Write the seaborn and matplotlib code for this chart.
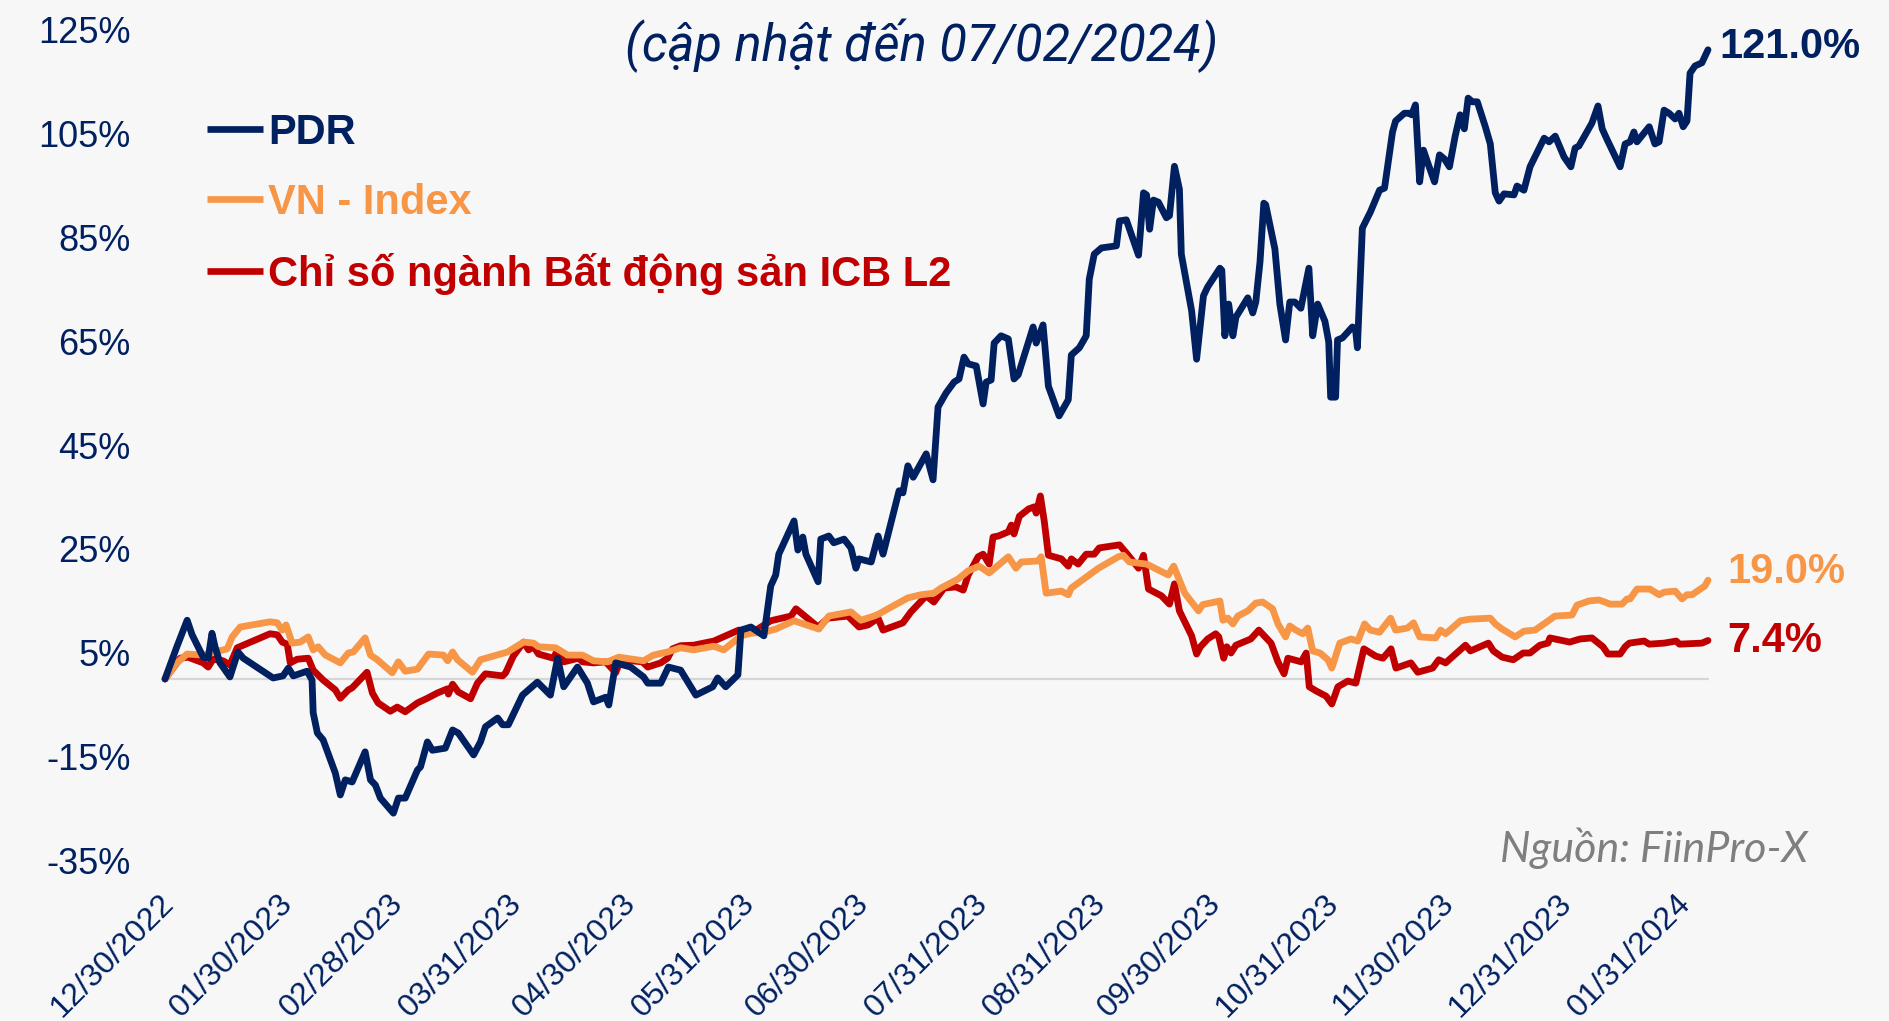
import matplotlib
matplotlib.use("Agg")

import matplotlib.pyplot as plt
from matplotlib.lines import Line2D
from matplotlib.transforms import ScaledTranslation
import seaborn as sns
import pandas as pd

# data: days since 30/12/2022 and % change
START = "2022-12-30"

pdr_days = [0, 3.1, 5.8, 7.1, 10.0, 11.3, 12.3, 13.1, 14.4, 17.0, 19.1, 20.5, 28.3, 30.9, 32.3, 33.6,
            37.2, 38.5, 38.8, 39.9, 41.4, 44.6, 45.9, 47.2, 49.0, 52.4, 53.8, 55.1, 56.4, 59.8, 61.1,
            62.9, 66.1, 66.9, 68.7, 70.0, 73.4, 75.3, 76.8, 80.8, 82.6, 83.9, 87.1, 88.4, 89.9, 93.6,
            97.5, 100.9, 102.8, 104.4, 108.0, 110.6, 112.2, 115.4, 116.2, 118.0, 121.9, 125.3, 126.4,
            129.8, 131.8, 135.0, 139.0, 143.4, 144.7, 146.8, 150.0, 150.8, 153.4, 156.8, 158.6, 159.9,
            160.7, 164.7, 165.7, 167.0, 167.8, 171.0, 171.7, 173.8, 175.1, 177.8, 179.6, 180.9, 181.7,
            184.9, 186.7, 188.0, 192.2, 193.2, 194.5, 195.9, 199.3, 201.1, 202.4, 204.5, 206.6, 207.9,
            209.2, 210.3, 212.4, 214.2, 215.0, 216.3, 217.1, 218.9, 220.8, 222.3, 223.4, 227.3, 228.1,
            229.9, 231.3, 234.1, 236.5, 237.3, 239.4, 241.2, 242.0, 243.3, 245.2, 249.1, 249.9, 251.7,
            254.9, 256.2, 257.0, 257.8, 258.8, 260.1, 262.2, 263.0, 264.3, 265.6, 266.1, 268.8, 270.1,
            271.9, 273.0, 276.2, 276.7, 277.5, 278.5, 279.6, 280.4, 283.5, 284.8, 285.6, 286.7, 287.7,
            288.2, 290.6, 291.9, 293.4, 294.5, 295.8, 297.4, 299.5, 300.5, 301.8, 303.7, 304.7, 305.2,
            306.5, 307.0, 308.3, 310.9, 311.7, 312.2, 313.5, 314.3, 315.6, 318.0, 319.3, 321.4, 322.2,
            324.5, 325.8, 326.4, 327.4, 328.5, 329.5, 330.6, 332.4, 333.7, 335.0, 336.3, 337.8, 339.1,
            340.2, 341.2, 342.3, 343.6, 345.7, 347.0, 348.3, 349.3, 350.6, 353.2, 354.0, 355.8, 357.4,
            361.1, 362.4, 364.0, 366.3, 368.1, 369.2, 370.2, 373.6, 375.2, 376.3, 377.6, 381.0, 382.3,
            383.6, 384.6, 385.4, 388.6, 390.1, 391.2, 392.5, 393.8, 395.4, 396.4, 397.5, 398.5, 399.3,
            400.6, 402.4, 404.0]
pdr_vals = [0.0, 6.2, 11.3, 8.5, 4.2, 4.0, 8.8, 6.2, 3.1, 0.4, 5.2, 4.0, 0.2, 0.6, 2.1, 0.6,
            1.5, -0.2, -6.5, -10.4, -11.7, -18.1, -22.3, -19.4, -19.8, -14.0, -19.4, -20.4, -22.9, -25.8, -22.9,
            -22.9, -17.5, -16.9, -12.1, -13.7, -13.3, -9.8, -10.4, -14.6, -12.1, -9.2, -7.5, -8.8, -8.8, -3.1,
            -0.6, -3.1, 4.0, -1.5, 2.3, -0.8, -4.4, -3.5, -5.0, 3.1, 2.3, 0.4, -0.8,
            -0.8, 2.3, 1.7, -3.1, -1.5, 0.2, -1.5, 0.8, 9.4, 10.0, 8.3, 17.9, 20.0,
            24.0, 30.4, 24.8, 27.3, 24.0, 18.7, 26.9, 27.5, 26.2, 26.9, 25.2, 21.3, 23.1,
            22.5, 27.5, 24.0, 36.2, 35.8, 41.0, 38.8, 43.3, 38.3, 52.3, 55.0, 57.1, 57.7,
            61.9, 60.6, 60.2, 52.9, 57.1, 57.5, 64.6, 66.0, 65.4, 57.7, 58.5, 67.7, 64.6,
            68.1, 56.3, 50.6, 53.7, 62.3, 63.7, 66.0, 76.9, 81.7, 82.9, 83.3, 88.1, 88.3,
            81.5, 93.5, 93.1, 86.5, 92.1, 91.7, 88.7, 89.1, 98.6, 94.2, 81.7, 70.8, 61.5,
            73.7, 75.4, 79.0, 78.6, 66.0, 72.1, 66.0, 69.6, 73.3, 70.4, 72.5, 80.2, 91.5,
            91.2, 82.7, 72.1, 65.2, 72.5, 72.5, 71.3, 79.0, 66.0, 72.1, 68.8, 64.8, 54.2,
            54.2, 65.2, 65.6, 67.7, 67.3, 63.7, 86.7, 87.9, 89.8, 94.0, 94.4, 105.2, 107.3,
            108.8, 108.8, 108.5, 110.4, 95.6, 101.7, 99.3, 95.6, 100.8, 100.0, 98.5, 104.4, 108.5,
            105.8, 111.7, 111.0, 111.0, 106.2, 102.9, 93.5, 91.9, 93.3, 93.1, 94.8, 94.0, 98.5,
            104.0, 103.3, 104.4, 100.4, 98.5, 102.1, 102.5, 106.9, 110.2, 105.8, 103.7, 98.5, 102.9,
            103.3, 105.2, 103.3, 106.2, 102.9, 103.3, 109.4, 108.8, 107.7, 108.8, 106.2, 107.3, 116.5,
            117.9, 118.5, 121.0]

vni_days = [0, 3.1, 5.8, 10.0, 16.3, 17.6, 19.7, 27.5, 29.4, 30.7, 31.7, 33.3, 35.4, 37.5, 38.8,
            40.1, 42.0, 45.9, 48.0, 49.3, 52.4, 53.8, 55.6, 59.5, 61.1, 62.9, 66.1, 69.0, 72.9, 74.0,
            75.3, 76.6, 80.5, 82.6, 89.7, 93.9, 96.5, 97.8, 102.3, 105.4, 109.3, 112.2, 115.9, 118.8,
            125.3, 127.9, 131.6, 135.0, 138.4, 143.7, 146.3, 150.8, 153.4, 156.8, 159.9, 164.7, 171.2,
            173.8, 179.6, 182.2, 185.6, 186.9, 189.3, 194.5, 197.9, 201.3, 203.2, 207.6, 210.3, 213.1,
            215.8, 220.8, 222.8, 224.2, 228.6, 229.4, 230.7, 234.7, 236.5, 237.3, 244.4, 249.6, 250.9,
            252.5, 257.0, 262.7, 264.1, 267.0, 270.6, 271.7, 276.2, 277.0, 278.3, 279.6, 280.9, 283.5,
            285.6, 287.4, 290.0, 291.4, 293.4, 294.5, 296.1, 297.9, 299.2, 300.5, 302.4, 304.5, 305.5,
            307.6, 310.5, 312.3, 314.1, 315.6, 318.0, 320.9, 322.2, 325.3, 326.9, 328.5, 332.7, 334.0,
            335.3, 339.2, 341.6, 347.0, 348.3, 350.1, 353.5, 355.8, 358.7, 362.4, 363.9, 368.4, 369.7,
            372.8, 375.4, 377.0, 378.3, 381.5, 382.8, 383.6, 385.4, 388.8, 391.2, 392.5, 395.4, 397.2,
            398.5, 399.8, 403.2, 404.0]
vni_vals = [0.0, 3.1, 4.8, 4.6, 5.8, 8.1, 10.0, 11.0, 10.8, 9.4, 10.4, 6.9, 7.1, 8.1, 5.6,
            6.2, 4.6, 3.1, 5.0, 5.2, 7.9, 4.6, 3.7, 1.2, 3.3, 1.5, 1.9, 4.8, 4.6, 3.5,
            5.2, 3.7, 1.3, 3.7, 5.2, 7.1, 6.9, 6.2, 6.0, 4.6, 4.6, 3.5, 3.3, 4.2,
            3.5, 4.6, 5.2, 6.0, 5.6, 6.3, 5.6, 8.3, 8.8, 9.0, 9.6, 11.2, 9.6,
            12.1, 12.9, 11.3, 12.1, 12.5, 13.5, 15.6, 16.2, 16.5, 17.5, 19.2, 20.8, 21.7,
            20.4, 23.5, 21.3, 22.5, 22.7, 23.5, 16.5, 16.9, 16.2, 17.5, 21.3, 23.5, 23.8,
            22.5, 22.1, 20.0, 21.7, 16.5, 13.1, 14.3, 15.0, 11.3, 11.7, 10.6, 12.1, 13.1,
            14.6, 14.8, 13.5, 10.6, 8.1, 10.2, 9.4, 8.7, 9.8, 5.4, 5.0, 3.7, 2.1,
            6.9, 7.7, 7.3, 10.6, 9.4, 9.0, 11.7, 9.4, 9.8, 10.8, 8.1, 7.9, 9.4,
            8.7, 11.2, 11.5, 11.7, 10.6, 9.6, 8.1, 9.2, 9.4, 11.3, 12.1, 12.3, 14.2,
            15.0, 15.2, 14.8, 14.4, 14.4, 15.4, 15.4, 17.3, 17.3, 16.2, 16.7, 16.9, 15.4,
            16.2, 16.2, 17.9, 19.0]

icb_days = [0, 4.0, 6.0, 10.0, 11.3, 12.6, 15.2, 17.0, 18.9, 27.5, 29.4, 30.7, 32.0, 32.8, 34.6,
            37.5, 38.8, 41.4, 44.6, 45.9, 48.0, 49.0, 52.9, 54.3, 55.8, 59.0, 60.8, 62.9, 66.1, 68.7,
            71.3, 73.9, 74.2, 75.3, 76.8, 80.0, 81.8, 83.9, 88.4, 89.2, 91.2, 93.9, 95.2, 96.5, 97.8,
            101.7, 102.8, 104.4, 108.3, 109.3, 112.2, 115.4, 118.0, 119.3, 125.0, 126.4, 129.8, 131.6,
            132.9, 135.0, 138.4, 143.7, 146.8, 150.2, 153.9, 158.6, 163.9, 165.2, 171.0, 173.6, 178.8,
            181.7, 184.1, 186.7, 188.0, 193.2, 195.3, 199.3, 201.3, 204.0, 207.1, 209.0, 210.3, 212.9,
            214.2, 215.8, 216.8, 218.2, 220.8, 221.6, 222.3, 223.7, 226.1, 227.6, 228.1, 229.2, 230.2,
            231.3, 234.7, 236.5, 237.3, 239.1, 241.2, 243.3, 244.6, 249.9, 252.2, 254.9, 256.2, 257.5,
            260.9, 263.0, 264.3, 265.6, 268.8, 270.1, 271.1, 273.0, 275.1, 275.9, 277.2, 278.0, 279.1,
            280.4, 284.3, 286.4, 289.6, 291.4, 293.0, 294.0, 297.5, 298.8, 299.6, 301.4, 304.0, 305.5,
            307.1, 309.7, 311.8, 313.9, 317.0, 318.9, 321.0, 322.3, 326.2, 328.0, 331.9, 333.5, 335.3,
            340.5, 341.8, 346.5, 347.8, 350.1, 353.0, 355.6, 357.4, 360.0, 362.1, 362.6, 367.8, 370.5,
            373.6, 376.5, 377.8, 381.0, 382.3, 383.4, 387.3, 388.6, 392.5, 395.7, 396.5, 402.4, 404.0]
icb_vals = [0.0, 4.0, 4.2, 3.1, 2.3, 3.8, 3.5, 2.7, 6.0, 8.7, 8.5, 7.1, 6.7, 3.1, 3.8,
            4.0, 1.7, -0.2, -2.1, -3.7, -2.1, -1.7, 1.3, -2.7, -4.6, -6.2, -5.4, -6.3, -4.6, -3.7,
            -2.7, -1.9, -2.9, -1.0, -2.5, -3.8, -0.8, 1.0, 0.6, 1.2, 4.4, 7.1, 5.6, 6.2, 4.8,
            4.0, 5.6, 3.3, 4.0, 3.3, 3.1, 3.3, 1.2, 3.7, 3.3, 2.3, 3.1, 4.0,
            5.8, 6.4, 6.5, 7.3, 8.3, 9.4, 9.0, 11.2, 12.1, 13.5, 10.0, 11.7, 12.1,
            10.0, 10.4, 11.7, 9.4, 10.8, 12.9, 16.0, 14.8, 17.5, 17.7, 17.1, 20.0, 23.5,
            24.0, 22.1, 27.3, 27.5, 28.3, 29.6, 27.9, 31.3, 32.7, 33.1, 31.9, 35.2, 30.4,
            23.8, 23.1, 21.7, 23.1, 22.1, 24.0, 24.0, 25.2, 25.8, 23.8, 21.3, 23.8, 17.3,
            16.0, 14.4, 18.3, 13.1, 8.3, 4.8, 6.2, 7.7, 8.7, 8.1, 4.0, 6.2, 5.0,
            6.5, 7.7, 9.4, 6.9, 3.3, 1.0, 4.0, 3.3, 5.0, -1.5, -2.3, -3.3, -4.8,
            -1.5, -0.4, -0.8, 5.8, 4.4, 4.0, 5.8, 2.1, 3.1, 1.3, 2.1, 3.7, 3.1,
            6.5, 5.4, 6.9, 5.4, 4.2, 3.7, 5.0, 5.0, 6.5, 6.9, 7.9, 7.1, 7.7,
            7.9, 6.2, 4.8, 4.8, 6.2, 6.9, 7.3, 6.7, 6.9, 7.3, 6.7, 6.9, 7.4]

series_names = ["PDR", "VN - Index", "Chỉ số ngành Bất động sản ICB L2"]
series_colors = ["#002060", "#F79646", "#C00000"]
end_labels = ["121.0%", "19.0%", "7.4%"]

tick_dates = ["2022-12-30", "2023-01-30", "2023-02-28", "2023-03-31", "2023-04-30", "2023-05-31",
              "2023-06-30", "2023-07-31", "2023-08-31", "2023-09-30", "2023-10-31", "2023-11-30",
              "2023-12-31", "2024-01-31"]
y_ticks = [-35, -15, 5, 25, 45, 65, 85, 105, 125]

NAVY = "#002060"
W, H = 1890, 1021

sns.set_theme(style="white")
plt.rcParams["font.family"] = ["Liberation Sans", "DejaVu Sans"]

start = pd.Timestamp(START)
frames = []
for name, days, vals in [(series_names[0], pdr_days, pdr_vals),
                         (series_names[1], vni_days, vni_vals),
                         (series_names[2], icb_days, icb_vals)]:
    frames.append(pd.DataFrame({
        "date": start + pd.to_timedelta(days, unit="D"),
        "value": vals,
        "series": name,
    }))
data = pd.concat(frames, ignore_index=True)

fig = plt.figure(figsize=(W / 100, H / 100), dpi=100)
fig.patch.set_facecolor("#f7f7f8")
ax = fig.add_axes([165 / W, 1 - 861 / H, (1708 - 165) / W, (861 - 29) / H])
ax.set_facecolor("none")

ax.axhline(0, color="#d6d6d6", lw=1.6, zorder=1)

sns.lineplot(data=data, x="date", y="value", hue="series", hue_order=series_names[::-1],
             palette=dict(zip(series_names, series_colors)), linewidth=4.9,
             estimator=None, sort=False, legend=False, ax=ax, zorder=3)
for line in ax.lines:
    line.set_solid_joinstyle("round")
    line.set_solid_capstyle("round")
    line.set_clip_on(False)

ax.set_xlim(start, start + pd.Timedelta(days=404))
ax.set_ylim(-35, 125)
ax.set_xlabel("")
ax.set_ylabel("")
sns.despine(ax=ax, left=True, bottom=True)

ax.set_yticks(y_ticks)
ax.set_yticklabels([f"{v}%" for v in y_ticks], fontsize=26, color=NAVY)
ax.tick_params(axis="y", length=0, pad=25)

xt = pd.to_datetime(tick_dates)
ax.set_xticks(xt)
ax.set_xticklabels(xt.strftime("%m/%d/%Y"), fontsize=23, color=NAVY,
                   rotation=45, ha="right", va="top", rotation_mode="anchor")
ax.tick_params(axis="x", length=0, pad=20)
shift = ScaledTranslation(-6 / 100, 0, fig.dpi_scale_trans)
for lbl in ax.get_xticklabels():
    lbl.set_transform(lbl.get_transform() + shift)

# end-of-line value labels
end_offsets = [(8, 2), (14, 6), (14, 0)]
for name, color, label, off in zip(series_names, series_colors, end_labels, end_offsets):
    last = data[data["series"] == name].iloc[-1]
    ax.annotate(label, xy=(last["date"], last["value"]), xytext=off, textcoords="offset points",
                ha="left", va="center", fontsize=30, fontweight="bold", color=color,
                annotation_clip=False)

# legend drawn by hand, line segment + bold label
legend_y = [129, 199, 271]
for name, color, y in zip(series_names, series_colors, legend_y):
    fig.add_artist(Line2D([207 / W, 263 / W], [1 - y / H, 1 - y / H], color=color, lw=4.8,
                          solid_capstyle="butt"))
    fig.text(268 / W, 1 - (y + 15) / H, name, ha="left", va="baseline", fontsize=30,
             fontweight="bold", color=color)

fig.text(922 / W, 1 - 46 / H, "(cập nhật đến 07/02/2024)", ha="center", va="center",
         fontsize=36.5, style="italic", color=NAVY, family=["Roboto", "DejaVu Sans"])
fig.text(1808 / W, 1 - 848 / H, "Nguồn: FiinPro-X", ha="right", va="center",
         fontsize=31, style="italic", color="#7f7f7f", family=["Lato", "DejaVu Sans"])

fig.savefig("out.png", dpi=100, facecolor=fig.get_facecolor())
plt.close(fig)
